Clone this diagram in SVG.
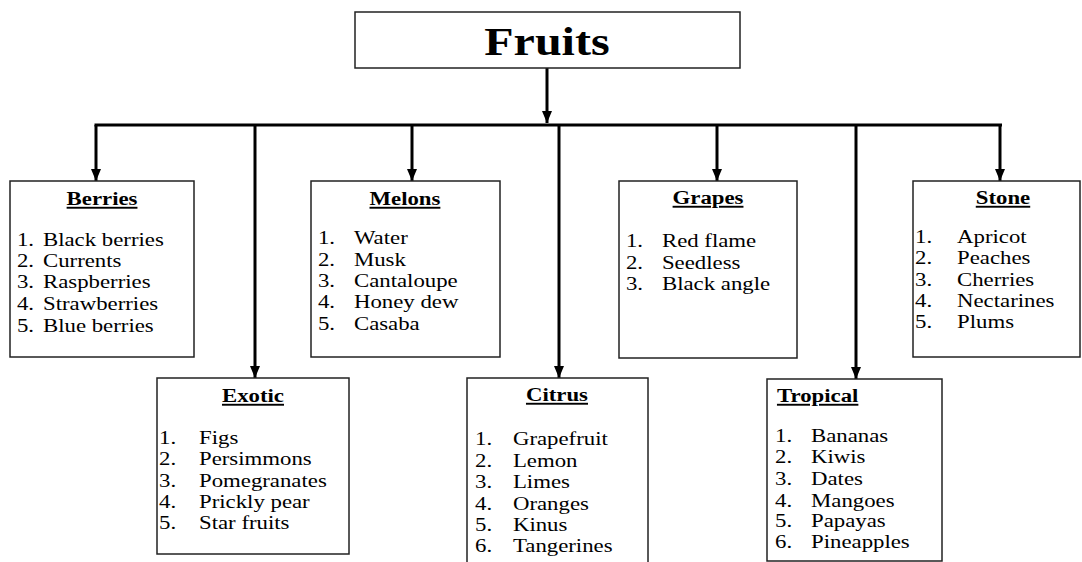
<svg xmlns="http://www.w3.org/2000/svg" width="1082" height="562" viewBox="0 0 1082 562">
  <defs>
    <marker id="arrow" viewBox="0 0 12 10" refX="12" refY="5" markerWidth="12" markerHeight="10" markerUnits="userSpaceOnUse" orient="auto">
      <path d="M0,0 L12,5 L0,10 Z" fill="#000"/>
    </marker>
  </defs>
  <style>
    .box { fill: #fff; stroke: #222; stroke-width: 1.5; }
    .wire { fill: none; stroke: #000; stroke-width: 3; }
    text { font-family: "Liberation Serif", "Times New Roman", serif; fill: #000; }
    .root { font-size: 40px; font-weight: bold; text-anchor: middle; }
    .head { font-size: 19px; font-weight: bold; text-decoration: underline; }
    .mid { text-anchor: middle; }
    .item { font-size: 19px; }
  </style>
  <rect width="1082" height="562" fill="#fff"/>

  <!-- connectors -->
  <g id="connectors">
    <line class="wire" x1="547" y1="68" x2="547" y2="123" marker-end="url(#arrow)"/>
    <line class="wire" x1="94.5" y1="125" x2="1002" y2="125"/>
    <line class="wire" x1="96" y1="125" x2="96" y2="181" marker-end="url(#arrow)"/>
    <line class="wire" x1="255" y1="125" x2="255" y2="378" marker-end="url(#arrow)"/>
    <line class="wire" x1="412" y1="125" x2="412" y2="181" marker-end="url(#arrow)"/>
    <line class="wire" x1="559" y1="125" x2="559" y2="378" marker-end="url(#arrow)"/>
    <line class="wire" x1="717" y1="125" x2="717" y2="181" marker-end="url(#arrow)"/>
    <line class="wire" x1="856" y1="125" x2="856" y2="379" marker-end="url(#arrow)"/>
    <line class="wire" x1="1000" y1="125" x2="1000" y2="181" marker-end="url(#arrow)"/>
  </g>

  <!-- root -->
  <g id="fruits">
    <rect class="box" x="355" y="12" width="385" height="56"/>
    <g transform="scale(1.2 1)">
      <text class="root" x="455.8" y="55">Fruits</text>
    </g>
  </g>

  <g id="berries">
    <rect class="box" x="10" y="181" width="184" height="176"/>
    <g class="item" transform="translate(10 0) scale(1.2 1)">
      <text class="head mid" x="76.7" y="205">Berries</text>
      <text x="5.8" y="246">1.</text><text x="27.5" y="246">Black berries</text>
      <text x="5.8" y="267">2.</text><text x="27.5" y="267">Currents</text>
      <text x="5.8" y="288">3.</text><text x="27.5" y="288">Raspberries</text>
      <text x="5.8" y="310">4.</text><text x="27.5" y="310">Strawberries</text>
      <text x="5.8" y="332">5.</text><text x="27.5" y="332">Blue berries</text>
    </g>
  </g>

  <g id="exotic">
    <rect class="box" x="157" y="378" width="192" height="176"/>
    <g class="item" transform="translate(157 0) scale(1.2 1)">
      <text class="head mid" x="80" y="402">Exotic</text>
      <text x="1.7" y="444">1.</text><text x="35" y="444">Figs</text>
      <text x="1.7" y="465">2.</text><text x="35" y="465">Persimmons</text>
      <text x="1.7" y="487">3.</text><text x="35" y="487">Pomegranates</text>
      <text x="1.7" y="508">4.</text><text x="35" y="508">Prickly pear</text>
      <text x="1.7" y="529">5.</text><text x="35" y="529">Star fruits</text>
    </g>
  </g>

  <g id="melons">
    <rect class="box" x="311" y="181" width="189" height="176"/>
    <g class="item" transform="translate(311 0) scale(1.2 1)">
      <text class="head mid" x="78.3" y="205">Melons</text>
      <text x="5.8" y="244">1.</text><text x="35.8" y="244">Water</text>
      <text x="5.8" y="266">2.</text><text x="35.8" y="266">Musk</text>
      <text x="5.8" y="287">3.</text><text x="35.8" y="287">Cantaloupe</text>
      <text x="5.8" y="308">4.</text><text x="35.8" y="308">Honey dew</text>
      <text x="5.8" y="330">5.</text><text x="35.8" y="330">Casaba</text>
    </g>
  </g>

  <g id="citrus">
    <rect class="box" x="467" y="378" width="181" height="190"/>
    <g class="item" transform="translate(467 0) scale(1.2 1)">
      <text class="head mid" x="75" y="401">Citrus</text>
      <text x="6.7" y="445">1.</text><text x="38.3" y="445">Grapefruit</text>
      <text x="6.7" y="467">2.</text><text x="38.3" y="467">Lemon</text>
      <text x="6.7" y="488">3.</text><text x="38.3" y="488">Limes</text>
      <text x="6.7" y="510">4.</text><text x="38.3" y="510">Oranges</text>
      <text x="6.7" y="531">5.</text><text x="38.3" y="531">Kinus</text>
      <text x="6.7" y="552">6.</text><text x="38.3" y="552">Tangerines</text>
    </g>
  </g>

  <g id="grapes">
    <rect class="box" x="619" y="181" width="178" height="177"/>
    <g class="item" transform="translate(619 0) scale(1.2 1)">
      <text class="head mid" x="74.2" y="204">Grapes</text>
      <text x="5.8" y="247">1.</text><text x="35.8" y="247">Red flame</text>
      <text x="5.8" y="269">2.</text><text x="35.8" y="269">Seedless</text>
      <text x="5.8" y="290">3.</text><text x="35.8" y="290">Black angle</text>
    </g>
  </g>

  <g id="tropical">
    <rect class="box" x="767" y="379" width="175" height="182"/>
    <g class="item" transform="translate(767 0) scale(1.2 1)">
      <text class="head" x="8.3" y="402">Tropical</text>
      <text x="6.7" y="442">1.</text><text x="36.7" y="442">Bananas</text>
      <text x="6.7" y="463">2.</text><text x="36.7" y="463">Kiwis</text>
      <text x="6.7" y="485">3.</text><text x="36.7" y="485">Dates</text>
      <text x="6.7" y="507">4.</text><text x="36.7" y="507">Mangoes</text>
      <text x="6.7" y="527">5.</text><text x="36.7" y="527">Papayas</text>
      <text x="6.7" y="548">6.</text><text x="36.7" y="548">Pineapples</text>
    </g>
  </g>

  <g id="stone">
    <rect class="box" x="913" y="181" width="167" height="176"/>
    <g class="item" transform="translate(913 0) scale(1.2 1)">
      <text class="head mid" x="75" y="204">Stone</text>
      <text x="1.7" y="243">1.</text><text x="36.7" y="243">Apricot</text>
      <text x="1.7" y="264">2.</text><text x="36.7" y="264">Peaches</text>
      <text x="1.7" y="286">3.</text><text x="36.7" y="286">Cherries</text>
      <text x="1.7" y="307">4.</text><text x="36.7" y="307">Nectarines</text>
      <text x="1.7" y="328">5.</text><text x="36.7" y="328">Plums</text>
    </g>
  </g>
</svg>
